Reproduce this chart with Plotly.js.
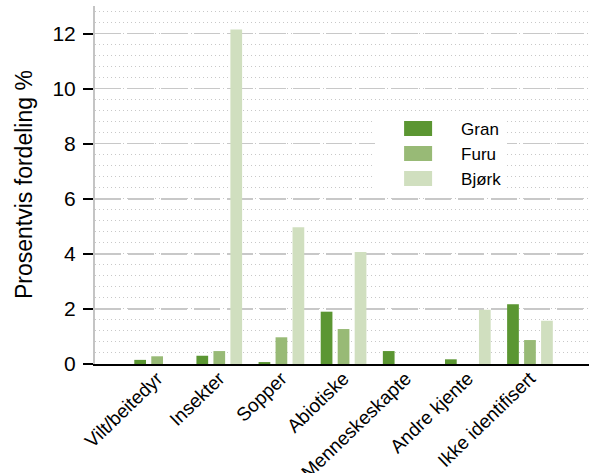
<!DOCTYPE html>
<html>
<head>
<meta charset="utf-8">
<script src="https://cdn.plot.ly/plotly-3.0.1.min.js"></script>
<style>html,body{margin:0;padding:0;background:#fff;}#chart{width:589px;height:473px;}</style>
</head>
<body>
<div id="chart"></div>
<script>
const categories = ['Vilt/beitedyr','Insekter','Sopper','Abiotiske','Menneskeskapte','Andre kjente','Ikke identifisert'];
const gran  = [0.15, 0.3, 0.07, 1.9, 0.47, 0.17, 2.17];
const furu  = [0.28, 0.47, 0.97, 1.27, 0, 0, 0.87];
const bjork = [0, 12.15, 4.97, 4.07, 0, 1.97, 1.57];
const seriesNames = ['Gran','Furu','Bjørk'];
const yTickVals = [0,2,4,6,8,10,12];
const yTitle = 'Prosentvis fordeling %';

const colors = ['#5b9632','#98ba76','#d0dfbf'];
const FONT = '"Liberation Sans", Arial, sans-serif';

const traces = [gran, furu, bjork].map((vals, i) => ({
  type: 'bar', x: categories, y: vals, name: seriesNames[i],
  marker: {color: colors[i], line: {width: 0}}
}));

const layout = {
  width: 589, height: 473,
  margin: {l: 95, r: 0, t: 6, b: 109},
  paper_bgcolor: '#fff', plot_bgcolor: '#fff',
  font: {family: FONT, color: '#000'},
  barmode: 'group', bargap: 0.18, bargroupgap: 0.31,
  showlegend: true,
  legend: {
    x: 0.567, xanchor: 'left', y: 0.587, yanchor: 'middle',
    bgcolor: '#fff', borderwidth: 0, itemwidth: 76,
    font: {size: 17, family: FONT, color: '#000'}
  },
  xaxis: {
    type: 'category', range: [-1, 6.95],
    showgrid: false, zeroline: false,
    showline: true, linecolor: '#000', linewidth: 2,
    ticks: '', tickangle: -44, ticklabelstandoff: -6,
    tickfont: {size: 19, family: FONT, color: '#000'}
  },
  yaxis: {
    range: [0, 13], tickvals: yTickVals, ticktext: yTickVals.map(String),
    showline: true, linecolor: '#c4c4c4', linewidth: 2,
    ticks: 'outside', ticklen: 10, tickwidth: 2, tickcolor: '#000',
    ticklabelstandoff: 3,
    tickfont: {size: 21, family: FONT, color: '#000'},
    showgrid: true, gridcolor: '#c8c8c8', gridwidth: 1.5, griddash: '26px,7px',
    zeroline: false,
    minor: {dtick: 0.4, tick0: 0, showgrid: true, gridcolor: '#c8c8c8', gridwidth: 1, griddash: '1px,3px', ticks: ''}
  },
  annotations: [{
    text: yTitle, xref: 'paper', yref: 'paper',
    x: -(95 - 24) / 494, y: 0.5, xanchor: 'center', yanchor: 'middle',
    textangle: -90, showarrow: false,
    font: {size: 23, family: FONT, color: '#000'}
  }]
};

Plotly.newPlot('chart', traces, layout, {displayModeBar: false, staticPlot: true}).then(() => {
  document.querySelectorAll('.legend .legendpoints path').forEach(p => {
    p.setAttribute('d', 'M14,7.5H-14V-7.5H14Z');
  });
});
</script>
</body>
</html>
